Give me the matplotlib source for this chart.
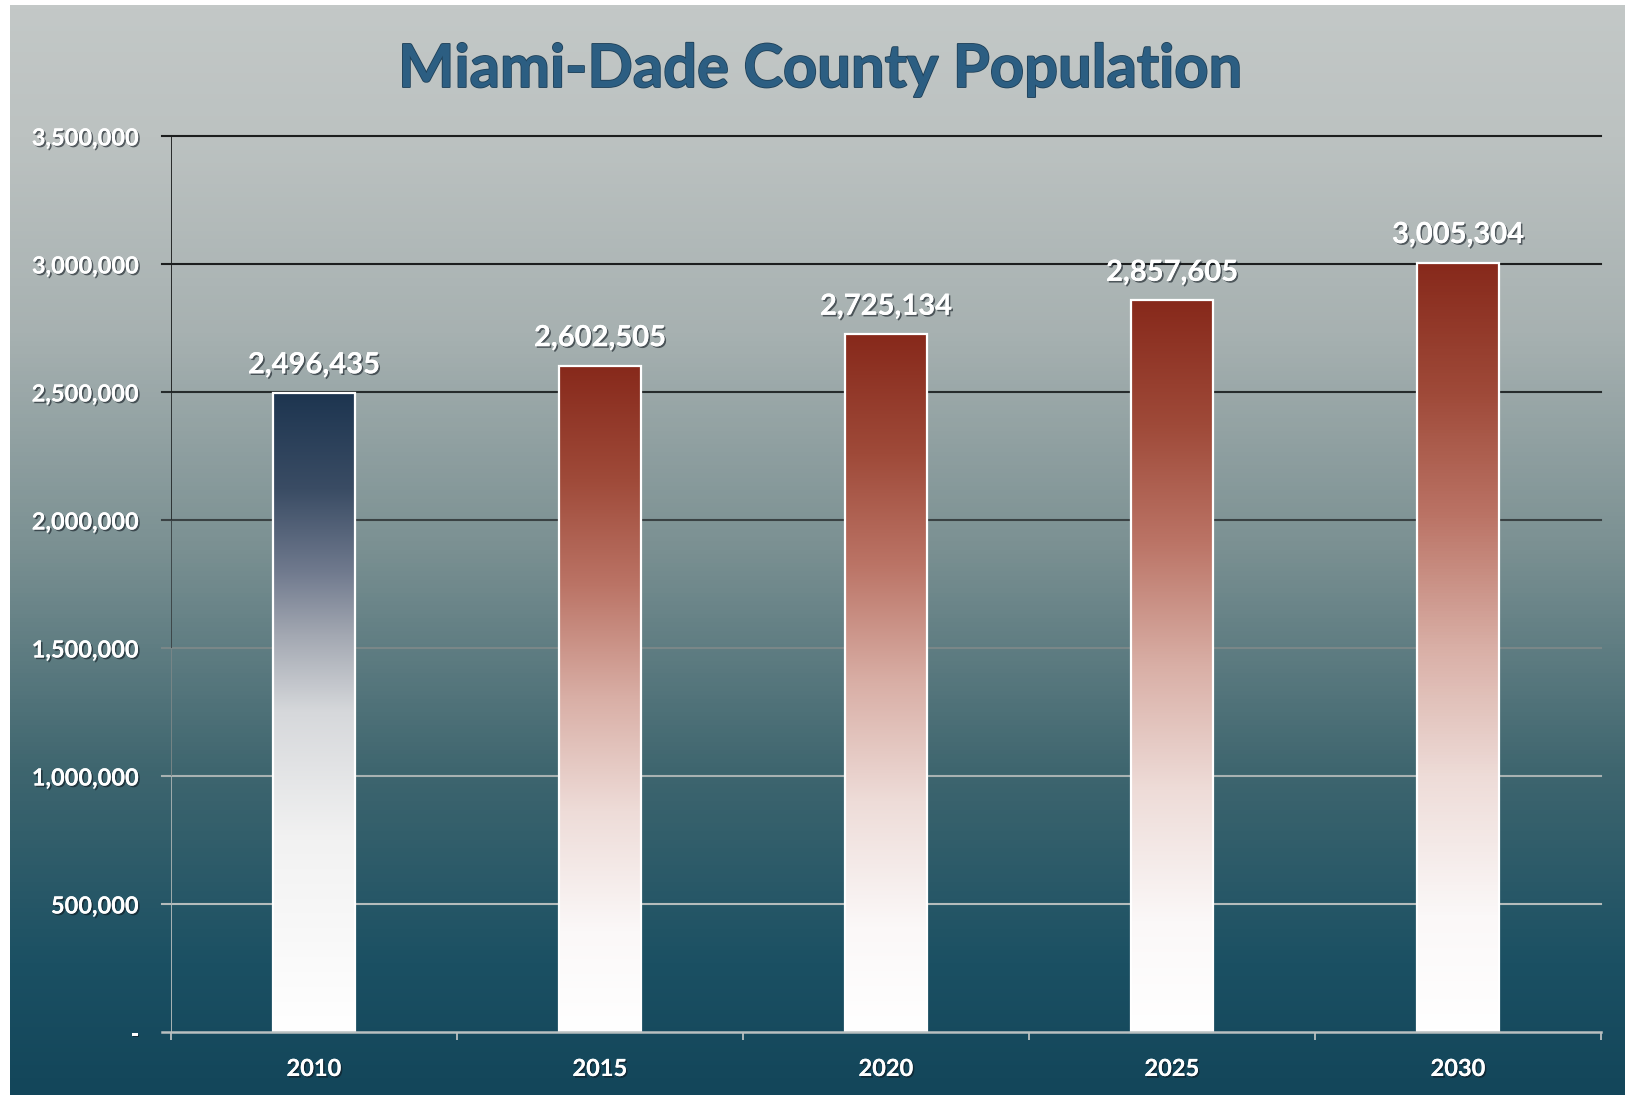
import numpy as np
import matplotlib.pyplot as plt
import matplotlib.patheffects as pe
import matplotlib.transforms as mtransforms
from matplotlib.colors import LinearSegmentedColormap
from matplotlib.collections import LineCollection

years = ['2010', '2015', '2020', '2025', '2030']
population = [2496435, 2602505, 2725134, 2857605, 3005304]
y_levels = [0, 500000, 1000000, 1500000, 2000000, 2500000, 3000000, 3500000]
grid_colors = ['#b9c0c0', '#b5bcbc', '#a9b2b2', '#7a8788', '#3a4244', '#262b2c', '#1c1e1e', '#1c1e1e']

plt.rcParams['font.family'] = ['Lato', 'DejaVu Sans']

shadow = [pe.withSimplePatchShadow(offset=(1.2, -1.2), shadow_rgbFace='#101820', alpha=0.6), pe.Normal()]

fig = plt.figure(figsize=(16.25, 10.95), dpi=100)
fig.patch.set_facecolor('white')

# page background: light grey at the top fading into dark teal
bg_cmap = LinearSegmentedColormap.from_list('bg', [
    (0.0, '#13465a'), (0.12, '#1b5063'), (0.3, '#3f666f'),
    (0.5, '#7a9092'), (0.7, '#a7b1b1'), (0.88, '#bcc2c1'), (1.0, '#c3c8c7')])
bg = fig.add_axes([0.006, 0, 0.994, 0.995])
bg.imshow(np.linspace(0, 1, 256).reshape(-1, 1), aspect='auto', cmap=bg_cmap,
          origin='lower', extent=[0, 1, 0, 1])
bg.axis('off')

ax = fig.add_axes([171 / 1625, 1 - 1032 / 1095, 1430 / 1625, 896 / 1095])
ax.patch.set_alpha(0)

x = np.arange(len(years))
bars = ax.bar(x, population, width=0.29, facecolor='none', edgecolor='white',
              linewidth=1.6, zorder=4)

red = LinearSegmentedColormap.from_list('red', [
    (0.0, '#ffffff'), (0.15, '#fbf8f8'), (0.33, '#eedcd8'), (0.5, '#d9afa6'),
    (0.67, '#bb7466'), (0.83, '#9f4a39'), (1.0, '#87291b')])
navy = LinearSegmentedColormap.from_list('navy', [
    (0.0, '#ffffff'), (0.3, '#f2f2f2'), (0.5, '#d6d8db'), (0.62, '#a3a8b2'),
    (0.72, '#707a8e'), (0.85, '#3a4c64'), (1.0, '#1d3550')])
for i, (b, v) in enumerate(zip(bars, population)):
    ax.imshow(np.linspace(0, 1, 256).reshape(-1, 1), aspect='auto',
              cmap=navy if i == 0 else red, origin='lower', zorder=3,
              extent=[b.get_x(), b.get_x() + b.get_width(), 0, v])
    ax.annotate(f'{v:,}', (b.get_x() + b.get_width() / 2, v), xytext=(0, 10.5),
                textcoords='offset points', ha='center', va='bottom',
                fontsize=21, fontweight='bold', color='white', path_effects=shadow)

ax.set_xlim(-0.5, len(years) - 0.5)
ax.set_ylim(0, 3500000)

# gridlines run a little past the left axis like tick marks
trans = mtransforms.blended_transform_factory(ax.transAxes, ax.transData)
for lvl, c in zip(y_levels[1:], grid_colors[1:]):
    ax.plot([-0.006, 1], [lvl, lvl], color=c, lw=1.5, transform=trans,
            clip_on=False, zorder=1)
ax.plot([-0.006, 1], [0, 0], color=grid_colors[0], lw=1.8, transform=trans,
        clip_on=False, zorder=5)

# left axis line shading from dark to light
segs = [[(-0.5, y_levels[k]), (-0.5, y_levels[k + 1])] for k in range(len(y_levels) - 1)]
ax.add_collection(LineCollection(segs, colors=grid_colors[1:], linewidths=1.3, zorder=1))

for s in ax.spines.values():
    s.set_visible(False)

ax.set_yticks(y_levels)
ax.set_yticklabels(['-' if v == 0 else f'{v:,}' for v in y_levels])
ax.tick_params(axis='y', length=0, pad=23, labelsize=17, labelcolor='white')
ax.set_xticks(x)
ax.set_xticklabels(years)
ax.tick_params(axis='x', length=0, pad=18, labelsize=17, labelcolor='white')
ax.set_xticks(np.arange(-0.5, len(years)), minor=True)
ax.tick_params(axis='x', which='minor', length=6, width=1.3, color='#b9c0c0', direction='out')
for lab in ax.get_xticklabels() + ax.get_yticklabels():
    lab.set_fontweight('bold')
    lab.set_path_effects(shadow)

fig.text(0.505, 0.936, 'Miami-Dade County Population', ha='center', va='center',
         fontsize=43, fontweight='bold', color='#2c5e82',
         path_effects=[pe.withStroke(linewidth=1.2, foreground='#1f4058')])

fig.savefig('out.png', dpi=100)
